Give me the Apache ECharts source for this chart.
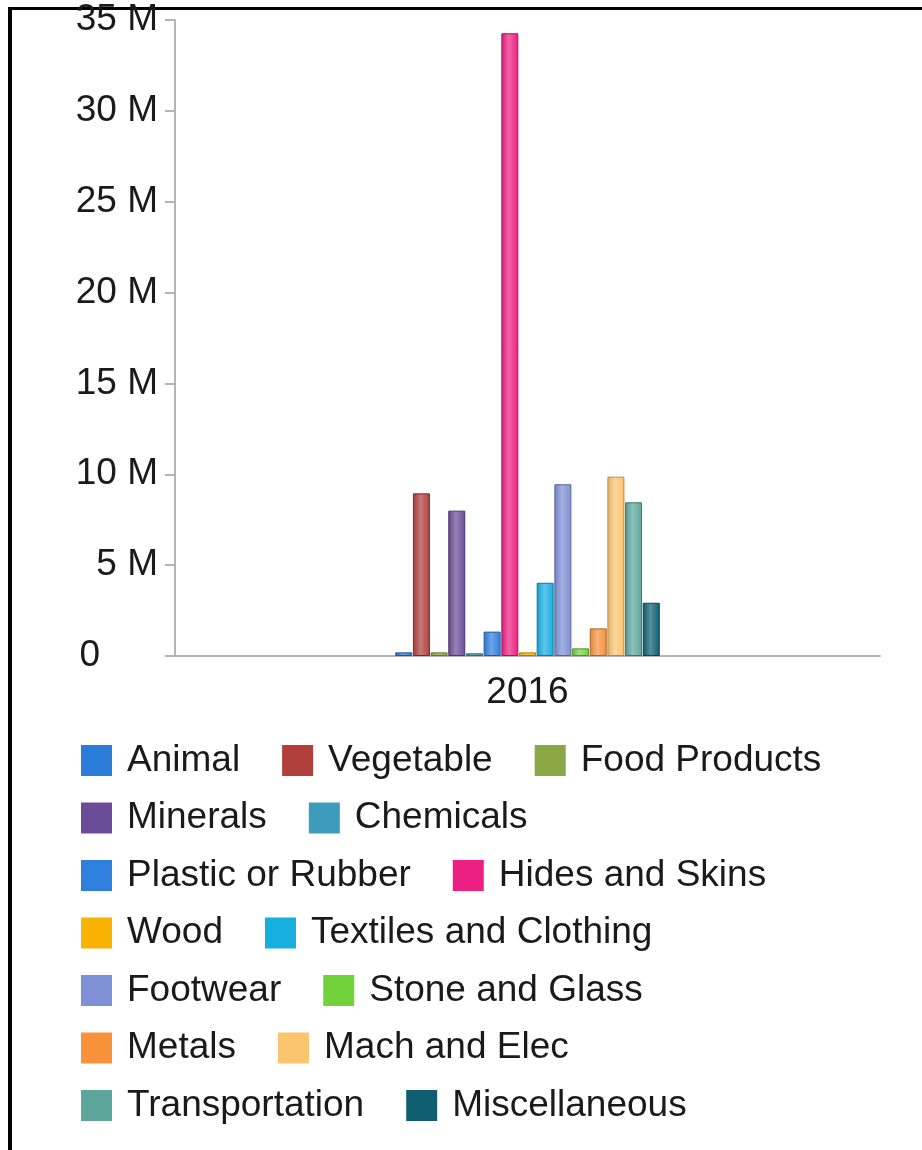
<!DOCTYPE html>
<html>
<head>
<meta charset="utf-8">
<script src="https://cdn.jsdelivr.net/npm/echarts@6/dist/echarts.min.js"></script>
<style>
  html, body { margin: 0; padding: 0; background: #fff; }
  #chart { width: 922px; height: 1150px; }
</style>
</head>
<body>
<div id="chart"></div>
<script>
// data
var years = ['2016'];
var sectors = ['Animal', 'Vegetable', 'Food Products', 'Minerals', 'Chemicals',
    'Plastic or Rubber', 'Hides and Skins', 'Wood', 'Textiles and Clothing', 'Footwear',
    'Stone and Glass', 'Metals', 'Mach and Elec', 'Transportation', 'Miscellaneous'];
var values = [0.2e6, 8.95e6, 0.2e6, 8.0e6, 0.15e6,
    1.34e6, 34.27e6, 0.2e6, 4.03e6, 9.45e6,
    0.42e6, 1.52e6, 9.87e6, 8.46e6, 2.93e6];
var colors = ['#2b7bd9', '#b03f3c', '#8aa843', '#6b4c99', '#3d9cbb',
    '#2f7fdf', '#ec1f82', '#f9b200', '#17aee0', '#7e90d6',
    '#72d23a', '#f7913a', '#fbc46e', '#5ca69b', '#0f5f70'];
// legend rows as in the picture
var legendRows = [
    ['Animal', 'Vegetable', 'Food Products'],
    ['Minerals', 'Chemicals'],
    ['Plastic or Rubber', 'Hides and Skins'],
    ['Wood', 'Textiles and Clothing'],
    ['Footwear', 'Stone and Glass'],
    ['Metals', 'Mach and Elec'],
    ['Transportation', 'Miscellaneous']
];

var chart = echarts.init(document.getElementById('chart'));
var font = 'Liberation Sans, Arial, sans-serif';

// shade a hex colour: k > 0 lighter, k < 0 darker
function shade(hex, k) {
    var n = parseInt(hex.slice(1), 16);
    var c = [(n >> 16) & 255, (n >> 8) & 255, n & 255].map(function (v) {
        v = k > 0 ? v + (255 - v) * k : v * (1 + k);
        return Math.round(Math.max(0, Math.min(255, v)));
    });
    return 'rgb(' + c.join(',') + ')';
}

var series = sectors.map(function (name, i) {
    var col = colors[i];
    return {
        name: name,
        type: 'bar',
        barWidth: 17,
        barGap: '4%',
        data: [values[i]],
        itemStyle: {
            color: new echarts.graphic.LinearGradient(0, 0, 1, 0, [
                { offset: 0, color: shade(col, -0.1) },
                { offset: 0.45, color: shade(col, 0.3) },
                { offset: 1, color: col }
            ]),
            borderColor: shade(col, -0.3),
            borderWidth: 1
        }
    };
});

var legends = legendRows.map(function (row, r) {
    return {
        data: row.map(function (n) {
            return { name: n, itemStyle: { color: colors[sectors.indexOf(n)], borderWidth: 0 } };
        }),
        left: 76,
        top: 737 + r * 57.5,
        orient: 'horizontal',
        itemWidth: 31,
        itemHeight: 31,
        itemGap: 42,
        icon: 'rect',
        selectedMode: false,
        textStyle: {
            fontFamily: font,
            fontSize: 37,
            color: '#1a1a1a',
            padding: [0, 0, 0, 10]
        }
    };
});

var option = {
    backgroundColor: '#fff',
    animation: false,
    color: colors,
    grid: { left: 175, right: 42, top: 20, bottom: 494, containLabel: false },
    legend: legends,
    xAxis: {
        type: 'category',
        data: years,
        axisLine: { lineStyle: { color: '#b3b3b3', width: 2 } },
        axisTick: { show: false },
        axisLabel: { fontFamily: font, fontSize: 37, color: '#1a1a1a', margin: 18 }
    },
    yAxis: {
        type: 'value',
        min: 0,
        max: 35e6,
        interval: 5e6,
        splitLine: { show: false },
        axisLine: { show: true, lineStyle: { color: '#b3b3b3', width: 2 } },
        axisTick: { show: true, length: 10, lineStyle: { color: '#b3b3b3', width: 2 } },
        axisLabel: {
            fontFamily: font,
            fontSize: 37,
            color: '#1a1a1a',
            margin: 17,
            formatter: function (v) {
                return v === 0 ? '{z|0}' : (v / 1e6) + ' M';
            },
            rich: { z: { fontFamily: font, fontSize: 37, color: '#1a1a1a', padding: [0, 58, 0, 0] } }
        }
    },
    graphic: [
        { type: 'line', shape: { x1: 8, y1: 8.5, x2: 922, y2: 8.5 }, style: { stroke: '#000', lineWidth: 3 } },
        { type: 'line', shape: { x1: 10, y1: 7, x2: 10, y2: 1150 }, style: { stroke: '#000', lineWidth: 4 } }
    ],
    series: series
};

chart.setOption(option);
</script>
</body>
</html>
